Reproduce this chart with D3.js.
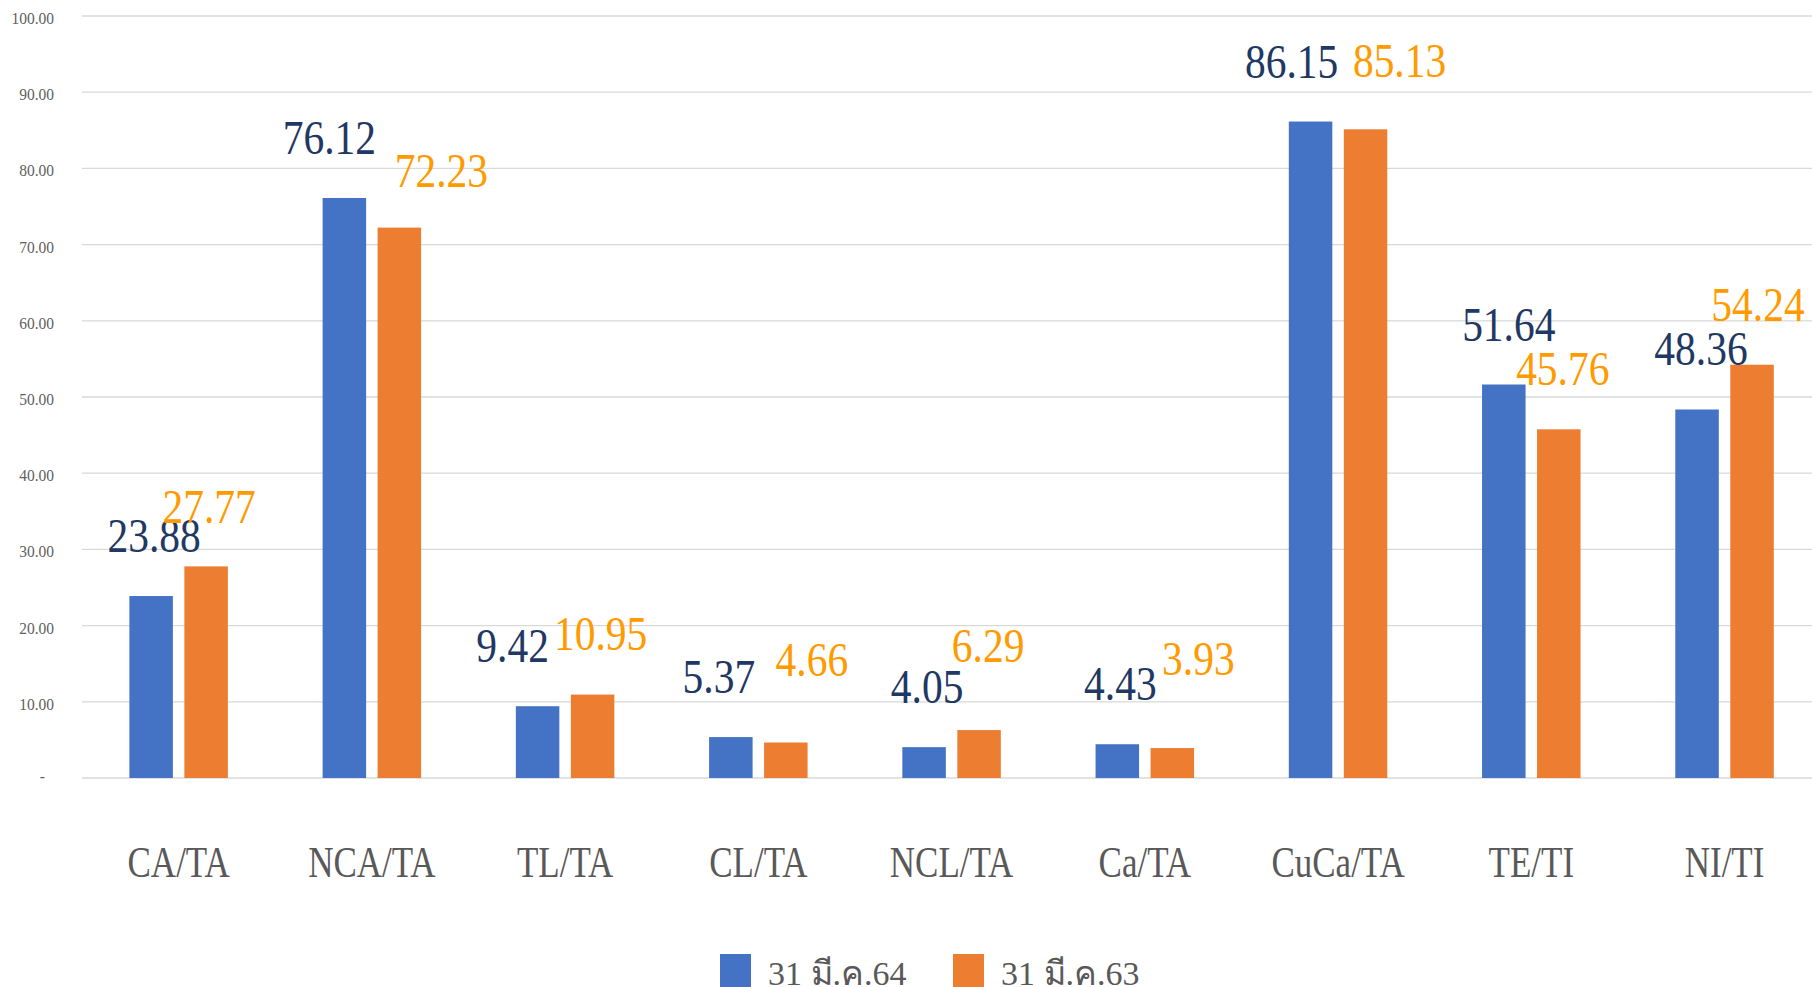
<!DOCTYPE html>
<html>
<head>
<meta charset="utf-8">
<script src="https://cdn.jsdelivr.net/npm/d3@7"></script>
<style>
  html, body { margin: 0; padding: 0; background: #fff; }
  svg { display: block; }
</style>
</head>
<body>
<svg id="chart" width="1812" height="987"></svg>
<script>
// ---- data ----
const categories = ["CA/TA", "NCA/TA", "TL/TA", "CL/TA", "NCL/TA", "Ca/TA", "CuCa/TA", "TE/TI", "NI/TI"];
const seriesNames = ["31 มี.ค.64", "31 มี.ค.63"];
const values64 = [23.88, 76.12, 9.42, 5.37, 4.05, 4.43, 86.15, 51.64, 48.36];
const values63 = [27.77, 72.23, 10.95, 4.66, 6.29, 3.93, 85.13, 45.76, 54.24];
const yTicks = [0, 10, 20, 30, 40, 50, 60, 70, 80, 90, 100];

// ---- layout (label placements as in the original, relative to bar top/center) ----
const labelDx = [
  [3, -15, -25, -12, 3, 3, -19, 5, 4],
  [3, 42, 8, 26, 9, 26, 34, 4, 6]
];
const labelDy = [
  [-44, -44, -44, -44, -44, -44, -44, -44, -44],
  [-43, -41, -45, -66, -68, -73, -52, -44, -44]
];
const barColors = ["#4472C4", "#ED7D31"];
const labelColors = ["#1F3864", "#FF9A00"];

const svg = d3.select("#chart");
const W = 1812, H = 987;
const left = 82, bandStep = 193.24;
const x0 = d3.scaleBand().domain(categories).range([left, left + bandStep * categories.length]).padding(0);
const groupW = 98.5;
const x1 = d3.scaleBand().domain([0, 1])
  .range([(bandStep - groupW) / 2, (bandStep + groupW) / 2])
  .paddingInner(0.209).paddingOuter(0);
const y = d3.scaleLinear().domain([0, 100]).range([778, 16]);

const serif = "'Liberation Serif', 'Times New Roman', 'DejaVu Serif', serif";

// gridlines
svg.append("g").selectAll("line").data(yTicks).join("line")
  .attr("x1", left).attr("x2", W)
  .attr("y1", d => y(d)).attr("y2", d => y(d))
  .attr("stroke", "#d9d9d9").attr("stroke-width", 1.3);

// y axis labels
const yAxis = d3.axisLeft(y).tickValues(yTicks).tickSize(0).tickPadding(0)
  .tickFormat(d => d === 0 ? "-" : d3.format(".2f")(d));
const ya = svg.append("g").attr("transform", `translate(54,0)`).call(yAxis);
ya.select(".domain").remove();
ya.selectAll(".tick text")
  .attr("font-family", serif).attr("font-size", 15.5).attr("fill", "#5f5f5f")
  .attr("dy", null).attr("y", 0)
  .attr("transform", d => d === 0 ? "translate(-9,3) scale(1,1.12)" : "translate(0,7.5) scale(1,1.12)");

// bars
const allSeries = [values64, values63];
const g = svg.append("g");
allSeries.forEach((vals, s) => {
  g.append("g").selectAll("rect").data(vals).join("rect")
    .attr("x", (d, i) => x0(categories[i]) + x1(s))
    .attr("width", x1.bandwidth())
    .attr("y", d => y(d))
    .attr("height", d => y(0) - y(d))
    .attr("fill", barColors[s]);
});

// data labels
allSeries.forEach((vals, s) => {
  g.append("g").selectAll("g").data(vals).join("g")
    .attr("transform", (d, i) => {
      const cx = x0(categories[i]) + x1(s) + x1.bandwidth() / 2 + labelDx[s][i];
      const cy = y(d) + labelDy[s][i];
      return `translate(${cx},${cy}) scale(1,1.18)`;
    })
    .append("text")
    .attr("text-anchor", "middle")
    .attr("font-family", serif).attr("font-size", 41.5)
    .attr("fill", labelColors[s])
    .text(d => d3.format(".2f")(d));
});

// category labels
svg.append("g").selectAll("g").data(categories).join("g")
  .attr("transform", d => `translate(${x0(d) + bandStep / 2},877) scale(1,1.25)`)
  .append("text")
  .attr("text-anchor", "middle")
  .attr("font-family", serif).attr("font-size", 35)
  .attr("fill", "#595959")
  .text(d => d);

// legend
const legendX = [720, 953];
const lg = svg.append("g");
seriesNames.forEach((name, s) => {
  lg.append("rect").attr("x", legendX[s]).attr("y", 954).attr("width", 31).attr("height", 33).attr("fill", barColors[s]);
  lg.append("text")
    .attr("x", legendX[s] + 48).attr("y", 985)
    .attr("font-family", serif).attr("font-size", 34)
    .attr("fill", "#595959")
    .text(name);
});
</script>
</body>
</html>
